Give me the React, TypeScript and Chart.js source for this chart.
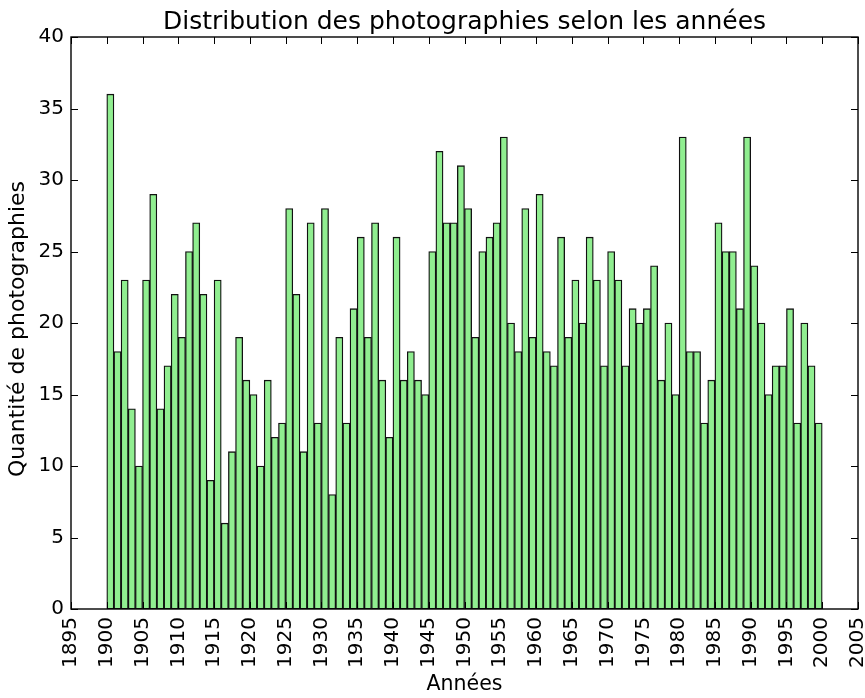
import React, { useEffect, useRef } from 'react';
import { Chart, registerables } from 'chart.js';

Chart.register(...registerables);

// Bin start years (one-year bins)
const years = [
  1900, 1901, 1902, 1903, 1904, 1905, 1906, 1907, 1908, 1909,
  1910, 1911, 1912, 1913, 1914, 1915, 1916, 1917, 1918, 1919,
  1920, 1921, 1922, 1923, 1924, 1925, 1926, 1927, 1928, 1929,
  1930, 1931, 1932, 1933, 1934, 1935, 1936, 1937, 1938, 1939,
  1940, 1941, 1942, 1943, 1944, 1945, 1946, 1947, 1948, 1949,
  1950, 1951, 1952, 1953, 1954, 1955, 1956, 1957, 1958, 1959,
  1960, 1961, 1962, 1963, 1964, 1965, 1966, 1967, 1968, 1969,
  1970, 1971, 1972, 1973, 1974, 1975, 1976, 1977, 1978, 1979,
  1980, 1981, 1982, 1983, 1984, 1985, 1986, 1987, 1988, 1989,
  1990, 1991, 1992, 1993, 1994, 1995, 1996, 1997, 1998, 1999,
];

// Number of photographs per year
const counts = [
  36, 18, 23, 14, 10, 23, 29, 14, 17, 22,
  19, 25, 27, 22, 9, 23, 6, 11, 19, 16,
  15, 10, 16, 12, 13, 28, 22, 11, 27, 13,
  28, 8, 19, 13, 21, 26, 19, 27, 16, 12,
  26, 16, 18, 16, 15, 25, 32, 27, 27, 31,
  28, 19, 25, 26, 27, 33, 20, 18, 28, 19,
  29, 18, 17, 26, 19, 23, 20, 26, 23, 17,
  25, 23, 17, 21, 20, 21, 24, 16, 20, 15,
  33, 18, 18, 13, 16, 27, 25, 25, 21, 33,
  24, 20, 15, 17, 17, 21, 13, 20, 17, 13,
];

const xTicks = [
  1895, 1900, 1905, 1910, 1915, 1920, 1925, 1930, 1935, 1940, 1945, 1950,
  1955, 1960, 1965, 1970, 1975, 1980, 1985, 1990, 1995, 2000, 2005,
];
const yTicks = [0, 5, 10, 15, 20, 25, 30, 35, 40];

const titleText = 'Distribution des photographies selon les années';
const xTitleText = 'Années';
const yTitleText = 'Quantité de photographies';

const FONT = "'DejaVu Sans', 'Liberation Sans', sans-serif";

const framePlugin = {
  id: 'mplFrame',
  afterDatasetsDraw(chart: any) {
    const { ctx, chartArea } = chart;
    const { left, right, top, bottom } = chartArea;
    const x = chart.scales.x;
    const y = chart.scales.y;
    const L = 7;
    ctx.save();
    ctx.strokeStyle = '#000';
    ctx.lineWidth = 1;
    ctx.beginPath();
    xTicks.forEach((v) => {
      const px = Math.round(x.getPixelForValue(v)) + 0.5;
      ctx.moveTo(px, bottom);
      ctx.lineTo(px, bottom - L);
      ctx.moveTo(px, top);
      ctx.lineTo(px, top + L);
    });
    yTicks.forEach((v) => {
      const py = Math.round(y.getPixelForValue(v)) + 0.5;
      ctx.moveTo(left, py);
      ctx.lineTo(left + L, py);
      ctx.moveTo(right, py);
      ctx.lineTo(right - L, py);
    });
    ctx.stroke();
    ctx.lineWidth = 1.4;
    ctx.strokeRect(left, top, right - left, bottom - top);
    ctx.restore();
  },
  afterDraw(chart: any) {
    const { ctx, chartArea } = chart;
    const cx = (chartArea.left + chartArea.right) / 2;
    ctx.save();
    ctx.fillStyle = '#000';
    ctx.textAlign = 'center';
    ctx.textBaseline = 'alphabetic';
    ctx.font = `25px ${FONT}`;
    ctx.fillText(titleText, cx, 29);
    ctx.translate(24, 329);
    ctx.rotate(-Math.PI / 2);
    ctx.font = `22px ${FONT}`;
    ctx.fillText(yTitleText, 0, 0);
    ctx.restore();
  },
};

export default function App() {
  const canvasRef = useRef<HTMLCanvasElement | null>(null);

  useEffect(() => {
    const canvas = canvasRef.current;
    if (!canvas) return;
    const chart = new Chart(canvas, {
      type: 'bar',
      data: {
        datasets: [
          {
            data: years.map((yr, i) => ({ x: yr + 0.5, y: counts[i] })),
            backgroundColor: '#90EE90',
            borderColor: '#111111',
            borderWidth: 1.3,
            borderSkipped: false,
            barPercentage: 1,
            categoryPercentage: 1,
          },
        ],
      },
      options: {
        responsive: false,
        animation: false,
        devicePixelRatio: 1,
        layout: { padding: { left: 0, right: 7, top: 37, bottom: 0 } },
        plugins: {
          legend: { display: false },
          tooltip: { enabled: false },
          title: { display: false },
        },
        scales: {
          x: {
            type: 'linear',
            min: 1895,
            max: 2005,
            offset: false,
            grid: { display: false, drawTicks: false, offset: false },
            border: { display: false },
            afterBuildTicks: (s: any) => {
              s.ticks = xTicks.map((v) => ({ value: v }));
            },
            afterFit: (s: any) => {
              s.height = 89;
              s.paddingLeft = 0;
              s.paddingRight = 0;
            },
            ticks: {
              autoSkip: false,
              minRotation: 90,
              maxRotation: 90,
              padding: 8,
              color: '#000',
              font: { family: FONT, size: 20 },
              callback: (v: any) => String(v),
            },
            title: {
              display: true,
              text: xTitleText,
              color: '#000',
              font: { family: FONT, size: 20.5, lineHeight: 1.2 },
              padding: { top: 0, bottom: 1 },
            },
          },
          y: {
            type: 'linear',
            min: 0,
            max: 40,
            grid: { display: false, drawTicks: false },
            border: { display: false },
            afterBuildTicks: (s: any) => {
              s.ticks = yTicks.map((v) => ({ value: v }));
            },
            afterFit: (s: any) => {
              s.width = 71;
              s.paddingTop = 0;
              s.paddingBottom = 0;
            },
            ticks: {
              padding: 7,
              color: '#000',
              font: { family: FONT, size: 20 },
              callback: (v: any) => String(v),
            },
            title: { display: false },
          },
        },
      },
      plugins: [framePlugin],
    });
    return () => chart.destroy();
  }, []);

  return (
    <div style={{ position: 'fixed', left: 0, top: 0, width: 865, height: 698, background: '#fff' }}>
      <canvas ref={canvasRef} width={865} height={698} style={{ width: 865, height: 698, display: 'block' }} />
    </div>
  );
}
